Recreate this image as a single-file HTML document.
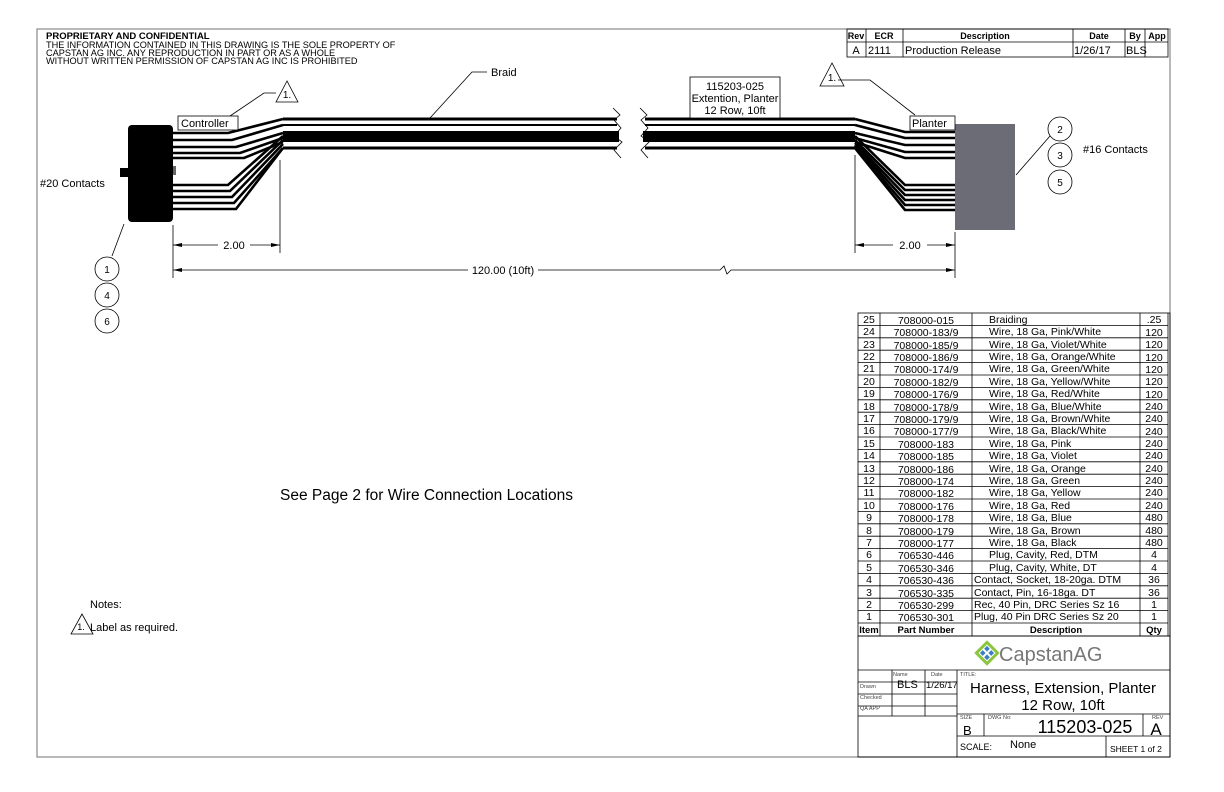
<!DOCTYPE html>
<html><head><meta charset="utf-8"><style>
html,body{margin:0;padding:0;background:#fff;}
svg{display:block;font-family:"Liberation Sans",sans-serif;}
</style></head><body>
<svg width="1224" height="792" viewBox="0 0 1224 792" xmlns="http://www.w3.org/2000/svg">
<rect x="0" y="0" width="1224" height="792" fill="#fff"/>
<rect x="37" y="29" width="1133" height="728" fill="none" stroke="#888" stroke-width="1.2"/>
<!-- header text -->
<text x="46" y="39" font-size="9.5" font-weight="bold">PROPRIETARY AND CONFIDENTIAL</text>
<text x="46" y="48" font-size="9.2">THE INFORMATION CONTAINED IN THIS DRAWING IS THE SOLE PROPERTY OF</text>
<text x="46" y="56" font-size="9.2">CAPSTAN AG INC. ANY REPRODUCTION IN PART OR AS A WHOLE</text>
<text x="46" y="64" font-size="9.2">WITHOUT WRITTEN PERMISSION OF CAPSTAN AG INC IS PROHIBITED</text>

<!-- Rev table -->
<g stroke="#000" stroke-width="0.8" fill="none">
<rect x="847" y="29" width="321" height="28"/>
<line x1="847" y1="42" x2="1168" y2="42"/>
<line x1="866" y1="29" x2="866" y2="57"/><line x1="903" y1="29" x2="903" y2="57"/>
<line x1="1073" y1="29" x2="1073" y2="57"/><line x1="1125" y1="29" x2="1125" y2="57"/>
<line x1="1145" y1="29" x2="1145" y2="57"/>
</g>
<g font-size="9" font-weight="bold" text-anchor="middle">
<text x="856" y="39">Rev</text><text x="884" y="39">ECR</text><text x="985" y="39">Description</text>
<text x="1099" y="39">Date</text><text x="1135" y="39">By</text><text x="1157" y="39">App</text>
</g>
<g font-size="11">
<text x="856" y="54" text-anchor="middle">A</text><text x="868" y="54">2111</text><text x="905" y="54">Production Release</text>
<text x="1074" y="54">1/26/17</text><text x="1126" y="54">BLS</text>
</g>

<!-- left connector -->
<rect x="128" y="125" width="45" height="97" rx="4" fill="#000"/>
<rect x="120" y="168" width="12" height="9" fill="#000"/>
<rect x="173" y="166" width="3" height="9" fill="#666"/>
<!-- left wires -->
<g stroke="#000" stroke-width="2.6" fill="none">
<path d="M173 133 L228 133 L283 119"/>
<path d="M173 140 L232 140 L283 125"/>
<path d="M173 147 L236 147 L283 133"/>
<path d="M173 153 L240 153 L283 138"/>
<path d="M173 158 L244 158 L283 142"/>
<path d="M173 185 L228 185 L283 136"/>
<path d="M173 191 L230 191 L283 140"/>
<path d="M173 197 L232 197 L283 144"/>
<path d="M173 203 L234 203 L283 148"/>
<path d="M173 209 L236 209 L283 148"/>
</g>
<!-- braid -->
<g stroke="#000" fill="none">
<line x1="283" y1="119" x2="617" y2="119" stroke-width="3"/>
<line x1="283" y1="125" x2="617" y2="125" stroke-width="2"/>
<line x1="283" y1="148" x2="617" y2="148" stroke-width="3"/>
<line x1="645" y1="119" x2="855" y2="119" stroke-width="3"/>
<line x1="645" y1="125" x2="855" y2="125" stroke-width="2"/>
<line x1="645" y1="148" x2="855" y2="148" stroke-width="3"/>
</g>
<rect x="283" y="131" width="336" height="11" fill="#000"/>
<rect x="643" y="131" width="212" height="11" fill="#000"/>
<g stroke="#000" stroke-width="0.8" fill="none">
<path d="M613 108 L620 115 L614 120 L621 128 L614 136 L622 142 L614 150 L621 158"/>
<path d="M640 108 L647 115 L641 120 L648 128 L641 136 L649 142 L641 150 L648 158"/>
</g>
<!-- right wires -->
<g stroke="#000" stroke-width="2.6" fill="none">
<path d="M855 119 L905 132 L955 132"/>
<path d="M855 125 L905 138 L955 138"/>
<path d="M855 133 L905 145 L955 145"/>
<path d="M855 138 L905 152 L955 152"/>
<path d="M855 142 L905 158 L955 158"/>
<path d="M855 136 L905 185 L955 185"/>
<path d="M855 140 L905 190 L955 190"/>
<path d="M855 143 L905 195 L955 195"/>
<path d="M855 145 L905 200 L955 200"/>
<path d="M855 147 L905 205 L955 205"/>
<path d="M855 148 L905 210 L955 210"/>
</g>
<rect x="955" y="124" width="60" height="106" fill="#6b6c76"/>

<!-- labels -->
<rect x="178" y="116" width="60" height="14" fill="#fff" stroke="#000" stroke-width="0.8"/>
<text x="181" y="127" font-size="11">Controller</text>
<rect x="910" y="116" width="45" height="14" fill="#fff" stroke="#000" stroke-width="0.8"/>
<text x="912" y="127" font-size="11">Planter</text>
<rect x="690" y="77" width="90" height="41" fill="#fff" stroke="#000" stroke-width="0.8"/>
<g font-size="11" text-anchor="middle"><text x="735" y="90">115203-025</text><text x="735" y="102">Extention, Planter</text><text x="735" y="114">12 Row, 10ft</text></g>
<text x="491" y="76" font-size="11">Braid</text>
<g stroke="#000" stroke-width="0.8" fill="none">
<path d="M487 72 L472 72 L430 118"/>
<polygon points="287,81 276,102 298,102"/>
<path d="M276 93 L264 93 L230 116"/>
<polygon points="832,63 820,86 844,86"/>
<path d="M838 80 L870 80 L915 115"/>
<path d="M124 224 L112 256"/>
<path d="M1050 136 L1016 175"/>
<circle cx="107" cy="269" r="12"/><circle cx="107" cy="295" r="12"/><circle cx="107" cy="321" r="12"/>
<circle cx="1060" cy="129" r="12"/><circle cx="1060" cy="155" r="12"/><circle cx="1060" cy="182" r="12"/>
</g>
<g font-size="10" text-anchor="middle">
<text x="287" y="98">1.</text><text x="832" y="81">1.</text>
<text x="107" y="273">1</text><text x="107" y="299">4</text><text x="107" y="325">6</text>
<text x="1060" y="133">2</text><text x="1060" y="159">3</text><text x="1060" y="186">5</text>
</g>
<text x="40" y="187" font-size="11">#20 Contacts</text>
<text x="1083" y="153" font-size="11">#16 Contacts</text>

<!-- dimensions -->
<g stroke="#000" stroke-width="0.8" fill="none">
<line x1="173" y1="225" x2="173" y2="278"/>
<line x1="280" y1="160" x2="280" y2="253"/>
<line x1="855" y1="155" x2="855" y2="253"/>
<line x1="955" y1="232" x2="955" y2="278"/>
<line x1="173" y1="245" x2="218" y2="245"/><line x1="250" y1="245" x2="280" y2="245"/>
<line x1="855" y1="245" x2="893" y2="245"/><line x1="927" y1="245" x2="955" y2="245"/>
<path d="M173 270 L468 270 M538 270 L720 270 L724 266 L727 274 L731 270 L955 270"/>
</g>
<g fill="#000">
<polygon points="173,245 182,243 182,247"/><polygon points="280,245 271,243 271,247"/>
<polygon points="855,245 864,243 864,247"/><polygon points="955,245 946,243 946,247"/>
<polygon points="173,270 182,268 182,272"/><polygon points="955,270 946,268 946,272"/>
</g>
<g font-size="11" text-anchor="middle">
<text x="234" y="249">2.00</text><text x="910" y="249">2.00</text><text x="503" y="274">120.00 (10ft)</text>
</g>

<text x="280" y="500" font-size="15.5">See Page 2 for Wire Connection Locations</text>
<text x="90" y="608" font-size="11">Notes:</text>
<polygon points="82,614 71,634 93,634" fill="none" stroke="#000" stroke-width="0.8"/>
<text x="81" y="630" font-size="9" text-anchor="middle">1.</text>
<text x="90" y="631" font-size="11">Label as required.</text>

<!-- BOM -->
<g stroke="#000" stroke-width="0.8" fill="none">
<rect x="858" y="313" width="312" height="323"/>
<line x1="880" y1="313" x2="880" y2="636"/><line x1="972" y1="313" x2="972" y2="636"/>
<line x1="1140" y1="313" x2="1140" y2="636"/><line x1="1168" y1="313" x2="1168" y2="636"/>
<line x1="858" y1="325.4" x2="1168" y2="325.4"/><line x1="858" y1="337.8" x2="1168" y2="337.8"/>
<line x1="858" y1="350.2" x2="1168" y2="350.2"/><line x1="858" y1="362.6" x2="1168" y2="362.6"/>
<line x1="858" y1="375" x2="1168" y2="375"/><line x1="858" y1="387.4" x2="1168" y2="387.4"/>
<line x1="858" y1="399.8" x2="1168" y2="399.8"/><line x1="858" y1="412.2" x2="1168" y2="412.2"/>
<line x1="858" y1="424.6" x2="1168" y2="424.6"/><line x1="858" y1="437" x2="1168" y2="437"/>
<line x1="858" y1="449.4" x2="1168" y2="449.4"/><line x1="858" y1="461.8" x2="1168" y2="461.8"/>
<line x1="858" y1="474.2" x2="1168" y2="474.2"/><line x1="858" y1="486.6" x2="1168" y2="486.6"/>
<line x1="858" y1="499" x2="1168" y2="499"/><line x1="858" y1="511.4" x2="1168" y2="511.4"/>
<line x1="858" y1="523.8" x2="1168" y2="523.8"/><line x1="858" y1="536.2" x2="1168" y2="536.2"/>
<line x1="858" y1="548.6" x2="1168" y2="548.6"/><line x1="858" y1="561" x2="1168" y2="561"/>
<line x1="858" y1="573.4" x2="1168" y2="573.4"/><line x1="858" y1="585.8" x2="1168" y2="585.8"/>
<line x1="858" y1="598.2" x2="1168" y2="598.2"/><line x1="858" y1="610.6" x2="1168" y2="610.6"/>
<line x1="858" y1="623" x2="1168" y2="623"/>
</g>
<g font-size="10.5">
<g text-anchor="middle">
<text x="869" y="323">25</text><text x="869" y="335">24</text><text x="869" y="348">23</text><text x="869" y="360">22</text><text x="869" y="372">21</text><text x="869" y="385">20</text><text x="869" y="397">19</text><text x="869" y="410">18</text><text x="869" y="422">17</text><text x="869" y="434">16</text><text x="869" y="447">15</text><text x="869" y="459">14</text><text x="869" y="472">13</text><text x="869" y="484">12</text><text x="869" y="496">11</text><text x="869" y="509">10</text><text x="869" y="521">9</text><text x="869" y="534">8</text><text x="869" y="546">7</text><text x="869" y="558">6</text><text x="869" y="571">5</text><text x="869" y="583">4</text><text x="869" y="596">3</text><text x="869" y="608">2</text><text x="869" y="620">1</text>
<text x="926" y="324">708000-015</text><text x="926" y="336">708000-183/9</text><text x="926" y="349">708000-185/9</text><text x="926" y="361">708000-186/9</text><text x="926" y="373">708000-174/9</text><text x="926" y="386">708000-182/9</text><text x="926" y="398">708000-176/9</text><text x="926" y="411">708000-178/9</text><text x="926" y="423">708000-179/9</text><text x="926" y="435">708000-177/9</text><text x="926" y="448">708000-183</text><text x="926" y="460">708000-185</text><text x="926" y="473">708000-186</text><text x="926" y="485">708000-174</text><text x="926" y="497">708000-182</text><text x="926" y="510">708000-176</text><text x="926" y="522">708000-178</text><text x="926" y="535">708000-179</text><text x="926" y="547">708000-177</text><text x="926" y="559">706530-446</text><text x="926" y="572">706530-346</text><text x="926" y="584">706530-436</text><text x="926" y="597">706530-335</text><text x="926" y="609">706530-299</text><text x="926" y="621">706530-301</text>
<text x="1154" y="323">.25</text><text x="1154" y="336">120</text><text x="1154" y="348">120</text><text x="1154" y="361">120</text><text x="1154" y="373">120</text><text x="1154" y="385">120</text><text x="1154" y="398">120</text><text x="1154" y="410">240</text><text x="1154" y="422">240</text><text x="1154" y="435">240</text><text x="1154" y="447">240</text><text x="1154" y="459">240</text><text x="1154" y="472">240</text><text x="1154" y="484">240</text><text x="1154" y="496">240</text><text x="1154" y="509">240</text><text x="1154" y="521">480</text><text x="1154" y="534">480</text><text x="1154" y="546">480</text><text x="1154" y="558">4</text><text x="1154" y="571">4</text><text x="1154" y="583">36</text><text x="1154" y="596">36</text><text x="1154" y="608">1</text><text x="1154" y="620">1</text>
</g>
<text x="989" y="323">Braiding</text>
<text x="989" y="335">Wire, 18 Ga, Pink/White</text><text x="989" y="348">Wire, 18 Ga, Violet/White</text><text x="989" y="360">Wire, 18 Ga, Orange/White</text><text x="989" y="372">Wire, 18 Ga, Green/White</text><text x="989" y="385">Wire, 18 Ga, Yellow/White</text><text x="989" y="397">Wire, 18 Ga, Red/White</text><text x="989" y="410">Wire, 18 Ga, Blue/White</text><text x="989" y="422">Wire, 18 Ga, Brown/White</text><text x="989" y="434">Wire, 18 Ga, Black/White</text><text x="989" y="447">Wire, 18 Ga, Pink</text><text x="989" y="459">Wire, 18 Ga, Violet</text><text x="989" y="472">Wire, 18 Ga, Orange</text><text x="989" y="484">Wire, 18 Ga, Green</text><text x="989" y="496">Wire, 18 Ga, Yellow</text><text x="989" y="509">Wire, 18 Ga, Red</text><text x="989" y="521">Wire, 18 Ga, Blue</text><text x="989" y="534">Wire, 18 Ga, Brown</text><text x="989" y="546">Wire, 18 Ga, Black</text>
<text x="989" y="558">Plug, Cavity, Red, DTM</text><text x="989" y="571">Plug, Cavity, White, DT</text>
<text x="974" y="583">Contact, Socket, 18-20ga. DTM</text><text x="974" y="596">Contact, Pin, 16-18ga. DT</text>
<text x="974" y="608">Rec, 40 Pin, DRC Series Sz 16</text><text x="974" y="620">Plug, 40 Pin DRC Series Sz 20</text>
</g>
<g font-size="9.5" font-weight="bold" text-anchor="middle">
<text x="869" y="633">Item</text><text x="926" y="633">Part Number</text><text x="1056" y="633">Description</text><text x="1154" y="633">Qty</text>
</g>

<!-- title block -->
<g stroke="#000" stroke-width="0.8" fill="none">
<rect x="858" y="636" width="312" height="121"/>
<line x1="858" y1="670" x2="1170" y2="670"/>
<line x1="858" y1="706" x2="957" y2="706"/><line x1="858" y1="694" x2="957" y2="694"/><line x1="858" y1="682" x2="957" y2="682"/>
<line x1="892" y1="670" x2="892" y2="716"/><line x1="925" y1="670" x2="925" y2="716"/>
<line x1="858" y1="716" x2="957" y2="716"/>
<line x1="957" y1="670" x2="957" y2="757"/>
<line x1="957" y1="714" x2="1170" y2="714"/><line x1="957" y1="736" x2="1170" y2="736"/>
<line x1="984" y1="714" x2="984" y2="736"/><line x1="1143" y1="714" x2="1143" y2="736"/>
<line x1="1106" y1="736" x2="1106" y2="757"/>
</g>
<g transform="translate(987,653) rotate(45)">
<rect x="-9" y="-9" width="18" height="18" fill="#8cc63f"/>
<rect x="-6" y="-6" width="12" height="12" fill="#fff"/>
<rect x="-5" y="-5" width="4" height="4" fill="#3a7fc1"/><rect x="1" y="-5" width="4" height="4" fill="#3a7fc1"/>
<rect x="-5" y="1" width="4" height="4" fill="#3a7fc1"/><rect x="1" y="1" width="4" height="4" fill="#3a7fc1"/>
</g>
<text x="999" y="661" font-size="20" fill="#777">CapstanAG</text>
<g font-size="5.5" fill="#444">
<text x="893" y="676">Name</text><text x="931" y="676">Date</text><text x="960" y="676">TITLE:</text>
<text x="860" y="688">Drawn</text><text x="860" y="699">Checked</text><text x="860" y="710">QA APP</text>
<text x="960" y="719">SIZE</text><text x="988" y="719">DWG No:</text><text x="1152" y="719">REV</text>
</g>
<text x="897" y="688" font-size="11">BLS</text>
<text x="926" y="688" font-size="9.5">1/26/17</text>
<text x="1063" y="693" font-size="15" text-anchor="middle">Harness, Extension, Planter</text>
<text x="1063" y="710" font-size="15" text-anchor="middle">12 Row, 10ft</text>
<text x="963" y="735" font-size="13">B</text>
<text x="1085" y="733" font-size="18" text-anchor="middle">115203-025</text>
<text x="1156" y="735" font-size="17" text-anchor="middle">A</text>
<text x="960" y="750" font-size="9">SCALE:</text>
<text x="1010" y="748" font-size="11">None</text>
<text x="1110" y="752" font-size="8.5">SHEET 1 of 2</text>
</svg>
</body></html>
